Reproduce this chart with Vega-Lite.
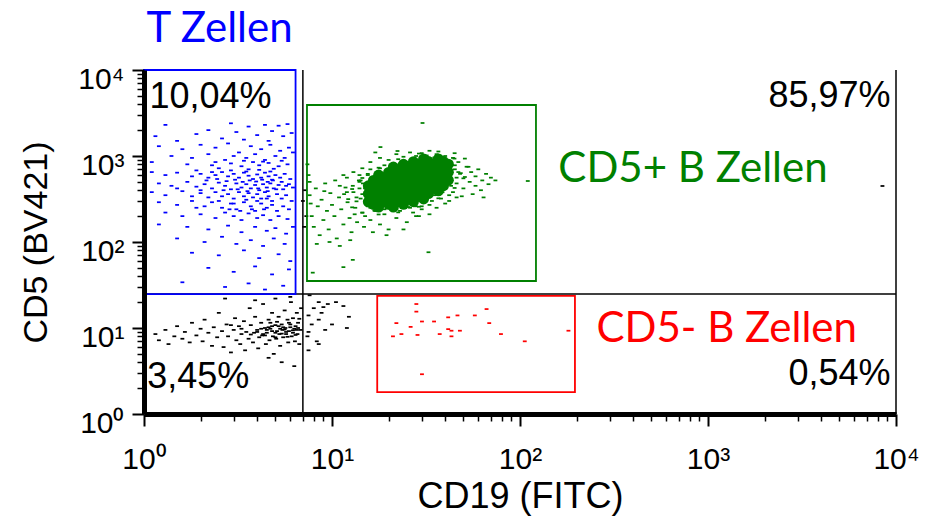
{
  "$schema": "https://vega.github.io/schema/vega-lite/v6.json",
  "width": 752,
  "height": 344,
  "autosize": "none",
  "padding": {"left": 144, "top": 70, "right": 38, "bottom": 102},
  "config": {"view": {"stroke": null}, "font": "Liberation Sans"},
  "datasets": {
    "pts": [
      {"x":1.3,"y":2300,"g":"T"},{"x":2.9,"y":2400,"g":"T"},{"x":3.6,"y":2200,"g":"T"},{"x":4.4,"y":2300,"g":"T"},{"x":5.2,"y":2250,"g":"T"},{"x":5.8,"y":2350,"g":"T"},{"x":2.2,"y":2000,"g":"T"},{"x":1.15,"y":1700,"g":"T"},{"x":1.9,"y":1800,"g":"T"},{"x":3.1,"y":1900,"g":"T"},{"x":4.0,"y":1750,"g":"T"},{"x":4.8,"y":1950,"g":"T"},{"x":5.5,"y":1700,"g":"T"},{"x":6.1,"y":1850,"g":"T"},{"x":2.6,"y":1600,"g":"T"},{"x":3.4,"y":1550,"g":"T"},{"x":1.5,"y":1500,"g":"T"},{"x":4.6,"y":1500,"g":"T"},
      {"x":1.2,"y":1300,"g":"T"},{"x":1.6,"y":1200,"g":"T"},{"x":2.0,"y":1350,"g":"T"},{"x":2.4,"y":1250,"g":"T"},{"x":2.8,"y":1400,"g":"T"},{"x":3.2,"y":1100,"g":"T"},{"x":3.7,"y":1300,"g":"T"},{"x":4.2,"y":1200,"g":"T"},{"x":4.7,"y":1350,"g":"T"},{"x":5.3,"y":1150,"g":"T"},{"x":5.9,"y":1250,"g":"T"},{"x":1.4,"y":1000,"g":"T"},{"x":1.8,"y":950,"g":"T"},{"x":2.2,"y":1050,"g":"T"},{"x":2.7,"y":900,"g":"T"},{"x":3.0,"y":1000,"g":"T"},{"x":3.5,"y":950,"g":"T"},{"x":3.9,"y":1050,"g":"T"},{"x":4.4,"y":900,"g":"T"},{"x":5.0,"y":1000,"g":"T"},{"x":5.6,"y":950,"g":"T"},{"x":6.2,"y":1100,"g":"T"},{"x":1.1,"y":850,"g":"T"},{"x":1.7,"y":800,"g":"T"},{"x":2.3,"y":780,"g":"T"},{"x":2.9,"y":820,"g":"T"},{"x":3.3,"y":760,"g":"T"},{"x":3.8,"y":850,"g":"T"},{"x":4.1,"y":780,"g":"T"},{"x":4.6,"y":830,"g":"T"},{"x":5.2,"y":760,"g":"T"},{"x":5.8,"y":800,"g":"T"},{"x":2.5,"y":720,"g":"T"},{"x":3.6,"y":700,"g":"T"},{"x":4.9,"y":710,"g":"T"},
      {"x":1.1,"y":650,"g":"T"},{"x":1.3,"y":600,"g":"T"},{"x":1.5,"y":640,"g":"T"},{"x":1.8,"y":580,"g":"T"},{"x":2.0,"y":620,"g":"T"},{"x":2.2,"y":560,"g":"T"},{"x":2.4,"y":600,"g":"T"},{"x":2.6,"y":650,"g":"T"},{"x":2.8,"y":580,"g":"T"},{"x":3.0,"y":620,"g":"T"},{"x":3.2,"y":560,"g":"T"},{"x":3.4,"y":640,"g":"T"},{"x":3.6,"y":590,"g":"T"},{"x":3.8,"y":540,"g":"T"},{"x":4.0,"y":610,"g":"T"},{"x":4.2,"y":560,"g":"T"},{"x":4.4,"y":640,"g":"T"},{"x":4.6,"y":580,"g":"T"},{"x":4.8,"y":530,"g":"T"},{"x":5.0,"y":600,"g":"T"},{"x":5.3,"y":560,"g":"T"},{"x":5.6,"y":620,"g":"T"},{"x":6.0,"y":540,"g":"T"},
      {"x":1.2,"y":480,"g":"T"},{"x":1.4,"y":450,"g":"T"},{"x":1.7,"y":500,"g":"T"},{"x":1.9,"y":440,"g":"T"},{"x":2.1,"y":470,"g":"T"},{"x":2.3,"y":420,"g":"T"},{"x":2.5,"y":490,"g":"T"},{"x":2.7,"y":450,"g":"T"},{"x":2.9,"y":410,"g":"T"},{"x":3.1,"y":480,"g":"T"},{"x":3.3,"y":430,"g":"T"},{"x":3.5,"y":470,"g":"T"},{"x":3.7,"y":420,"g":"T"},{"x":3.9,"y":460,"g":"T"},{"x":4.1,"y":400,"g":"T"},{"x":4.3,"y":470,"g":"T"},{"x":4.5,"y":430,"g":"T"},{"x":4.7,"y":480,"g":"T"},{"x":4.9,"y":420,"g":"T"},{"x":5.2,"y":460,"g":"T"},{"x":5.5,"y":410,"g":"T"},{"x":5.9,"y":470,"g":"T"},{"x":6.2,"y":430,"g":"T"},
      {"x":1.1,"y":380,"g":"T"},{"x":1.3,"y":350,"g":"T"},{"x":1.6,"y":390,"g":"T"},{"x":1.8,"y":340,"g":"T"},{"x":2.0,"y":370,"g":"T"},{"x":2.2,"y":330,"g":"T"},{"x":2.4,"y":380,"g":"T"},{"x":2.6,"y":340,"g":"T"},{"x":2.8,"y":360,"g":"T"},{"x":3.0,"y":320,"g":"T"},{"x":3.2,"y":380,"g":"T"},{"x":3.4,"y":340,"g":"T"},{"x":3.6,"y":370,"g":"T"},{"x":3.8,"y":330,"g":"T"},{"x":4.0,"y":360,"g":"T"},{"x":4.2,"y":320,"g":"T"},{"x":4.4,"y":380,"g":"T"},{"x":4.6,"y":340,"g":"T"},{"x":4.8,"y":300,"g":"T"},{"x":5.1,"y":360,"g":"T"},{"x":5.4,"y":320,"g":"T"},{"x":5.7,"y":350,"g":"T"},{"x":6.1,"y":300,"g":"T"},
      {"x":1.2,"y":290,"g":"T"},{"x":1.5,"y":270,"g":"T"},{"x":1.8,"y":300,"g":"T"},{"x":2.1,"y":260,"g":"T"},{"x":2.3,"y":290,"g":"T"},{"x":2.6,"y":250,"g":"T"},{"x":2.9,"y":280,"g":"T"},{"x":3.1,"y":240,"g":"T"},{"x":3.4,"y":290,"g":"T"},{"x":3.7,"y":260,"g":"T"},{"x":3.9,"y":230,"g":"T"},{"x":4.2,"y":280,"g":"T"},{"x":4.5,"y":250,"g":"T"},{"x":4.8,"y":270,"g":"T"},{"x":5.1,"y":230,"g":"T"},{"x":5.5,"y":260,"g":"T"},{"x":5.9,"y":240,"g":"T"},
      {"x":1.3,"y":220,"g":"T"},{"x":1.6,"y":200,"g":"T"},{"x":2.0,"y":210,"g":"T"},{"x":2.4,"y":190,"g":"T"},{"x":2.7,"y":220,"g":"T"},{"x":3.0,"y":200,"g":"T"},{"x":3.3,"y":180,"g":"T"},{"x":3.6,"y":215,"g":"T"},{"x":4.0,"y":190,"g":"T"},{"x":4.3,"y":205,"g":"T"},{"x":4.7,"y":180,"g":"T"},{"x":5.2,"y":200,"g":"T"},{"x":5.8,"y":185,"g":"T"},
      {"x":1.2,"y":160,"g":"T"},{"x":1.7,"y":150,"g":"T"},{"x":2.2,"y":140,"g":"T"},{"x":2.8,"y":155,"g":"T"},{"x":3.3,"y":130,"g":"T"},{"x":3.9,"y":150,"g":"T"},{"x":4.5,"y":135,"g":"T"},{"x":5.0,"y":145,"g":"T"},{"x":5.7,"y":125,"g":"T"},{"x":6.2,"y":150,"g":"T"},
      {"x":1.5,"y":110,"g":"T"},{"x":2.1,"y":100,"g":"T"},{"x":2.6,"y":115,"g":"T"},{"x":3.1,"y":95,"g":"T"},{"x":3.7,"y":105,"g":"T"},{"x":4.3,"y":90,"g":"T"},{"x":4.9,"y":110,"g":"T"},{"x":5.6,"y":95,"g":"T"},
      {"x":1.8,"y":75,"g":"T"},{"x":2.5,"y":70,"g":"T"},{"x":3.4,"y":80,"g":"T"},{"x":4.1,"y":65,"g":"T"},{"x":5.2,"y":72,"g":"T"},{"x":6.0,"y":60,"g":"T"},
      {"x":2.2,"y":50,"g":"T"},{"x":3.0,"y":45,"g":"T"},{"x":3.9,"y":52,"g":"T"},{"x":4.8,"y":42,"g":"T"},{"x":5.9,"y":48,"g":"T"},
      {"x":1.6,"y":34,"g":"T"},{"x":2.7,"y":30,"g":"T"},{"x":3.6,"y":33,"g":"T"},{"x":4.4,"y":28,"g":"T"},{"x":5.5,"y":31,"g":"T"},
      {"x":2.15,"y":520,"g":"T"},{"x":2.45,"y":540,"g":"T"},{"x":2.75,"y":510,"g":"T"},{"x":3.05,"y":530,"g":"T"},{"x":3.35,"y":500,"g":"T"},{"x":3.65,"y":520,"g":"T"},{"x":3.95,"y":505,"g":"T"},{"x":4.25,"y":530,"g":"T"},{"x":4.55,"y":500,"g":"T"},{"x":4.85,"y":520,"g":"T"},{"x":2.3,"y":650,"g":"T"},{"x":2.9,"y":680,"g":"T"},{"x":3.5,"y":660,"g":"T"},{"x":4.1,"y":690,"g":"T"},{"x":4.7,"y":660,"g":"T"},{"x":2.5,"y":300,"g":"T"},{"x":3.0,"y":280,"g":"T"},{"x":3.5,"y":310,"g":"T"},{"x":4.0,"y":300,"g":"T"},{"x":4.5,"y":320,"g":"T"},{"x":2.65,"y":400,"g":"T"},{"x":3.15,"y":410,"g":"T"},{"x":3.55,"y":390,"g":"T"},{"x":4.05,"y":420,"g":"T"},{"x":4.55,"y":390,"g":"T"},{"x":5.05,"y":410,"g":"T"},{"x":2.0,"y":400,"g":"T"},{"x":1.5,"y":420,"g":"T"},{"x":5.4,"y":500,"g":"T"},{"x":5.7,"y":450,"g":"T"},{"x":3.25,"y":230,"g":"T"},{"x":3.75,"y":240,"g":"T"},{"x":4.35,"y":240,"g":"T"},{"x":2.85,"y":240,"g":"T"},{"x":1.9,"y":250,"g":"T"},{"x":2.4,"y":850,"g":"T"},{"x":3.4,"y":880,"g":"T"},{"x":4.3,"y":860,"g":"T"},{"x":5.4,"y":880,"g":"T"},{"x":1.9,"y":680,"g":"T"},

      {"x":1.15,"y":8.5,"g":"N"},{"x":1.2,"y":7.2,"g":"N"},{"x":1.3,"y":9.5,"g":"N"},{"x":1.35,"y":6.5,"g":"N"},{"x":1.45,"y":8.0,"g":"N"},{"x":1.5,"y":10.5,"g":"N"},{"x":1.6,"y":7.5,"g":"N"},{"x":1.65,"y":9.0,"g":"N"},{"x":1.75,"y":6.8,"g":"N"},{"x":1.8,"y":11.5,"g":"N"},{"x":1.9,"y":8.2,"g":"N"},{"x":2.0,"y":9.8,"g":"N"},{"x":2.05,"y":7.0,"g":"N"},{"x":2.1,"y":12.5,"g":"N"},{"x":2.2,"y":8.8,"g":"N"},{"x":2.3,"y":6.2,"g":"N"},{"x":2.35,"y":10.2,"g":"N"},{"x":2.45,"y":7.8,"g":"N"},{"x":2.5,"y":15,"g":"N"},{"x":2.6,"y":9.2,"g":"N"},{"x":2.65,"y":6.0,"g":"N"},{"x":2.75,"y":11,"g":"N"},{"x":2.8,"y":8.0,"g":"N"},{"x":2.9,"y":5.2,"g":"N"},{"x":3.0,"y":9.5,"g":"N"},{"x":3.05,"y":13,"g":"N"},{"x":3.1,"y":7.2,"g":"N"},{"x":3.2,"y":10.5,"g":"N"},{"x":3.25,"y":6.5,"g":"N"},{"x":3.3,"y":8.5,"g":"N"},{"x":3.4,"y":12,"g":"N"},{"x":3.45,"y":5.5,"g":"N"},{"x":3.5,"y":9.0,"g":"N"},{"x":3.6,"y":7.5,"g":"N"},{"x":3.65,"y":17,"g":"N"},{"x":3.7,"y":10.8,"g":"N"},{"x":3.8,"y":6.8,"g":"N"},{"x":3.85,"y":8.8,"g":"N"},{"x":3.9,"y":13.5,"g":"N"},{"x":4.0,"y":9.5,"g":"N"},{"x":4.05,"y":5.8,"g":"N"},{"x":4.1,"y":7.8,"g":"N"},{"x":4.2,"y":11.5,"g":"N"},{"x":4.25,"y":8.2,"g":"N"},{"x":4.3,"y":19,"g":"N"},{"x":4.4,"y":10,"g":"N"},{"x":4.45,"y":6.5,"g":"N"},{"x":4.5,"y":8.8,"g":"N"},{"x":4.6,"y":12.5,"g":"N"},{"x":4.65,"y":7.2,"g":"N"},{"x":4.7,"y":9.8,"g":"N"},{"x":4.8,"y":15,"g":"N"},{"x":4.85,"y":8.0,"g":"N"},{"x":4.9,"y":5.0,"g":"N"},{"x":5.0,"y":10.8,"g":"N"},{"x":5.05,"y":7.5,"g":"N"},{"x":5.1,"y":9.2,"g":"N"},{"x":5.2,"y":13.5,"g":"N"},{"x":5.25,"y":8.5,"g":"N"},{"x":5.3,"y":6.2,"g":"N"},{"x":5.4,"y":11,"g":"N"},{"x":5.45,"y":9.5,"g":"N"},{"x":5.5,"y":7.8,"g":"N"},{"x":5.6,"y":16,"g":"N"},{"x":5.65,"y":10,"g":"N"},{"x":5.7,"y":8.5,"g":"N"},{"x":5.8,"y":12.5,"g":"N"},{"x":5.85,"y":6.8,"g":"N"},{"x":5.9,"y":9.2,"g":"N"},{"x":6.0,"y":11,"g":"N"},{"x":6.05,"y":20,"g":"N"},{"x":6.1,"y":8.0,"g":"N"},{"x":6.2,"y":13,"g":"N"},{"x":6.3,"y":9.8,"g":"N"},{"x":6.35,"y":7.0,"g":"N"},{"x":6.4,"y":10.5,"g":"N"},{"x":6.5,"y":15,"g":"N"},{"x":6.55,"y":8.5,"g":"N"},{"x":6.6,"y":11.5,"g":"N"},{"x":6.7,"y":6.5,"g":"N"},{"x":6.8,"y":9.5,"g":"N"},{"x":6.85,"y":17,"g":"N"},{"x":4.6,"y":4.5,"g":"N"},{"x":5.4,"y":4.0,"g":"N"},{"x":6.3,"y":3.6,"g":"N"},{"x":3.9,"y":21,"g":"N"},{"x":5.0,"y":22,"g":"N"},{"x":6.0,"y":23,"g":"N"},{"x":2.7,"y":22,"g":"N"},{"x":4.0,"y":9.0,"g":"N"},{"x":4.5,"y":9.5,"g":"N"},{"x":5.0,"y":8.8,"g":"N"},{"x":5.3,"y":9.8,"g":"N"},{"x":4.8,"y":10.5,"g":"N"},{"x":5.7,"y":9.0,"g":"N"},{"x":6.2,"y":8.8,"g":"N"},{"x":4.3,"y":8.5,"g":"N"},{"x":5.5,"y":10.2,"g":"N"},{"x":6.5,"y":9.5,"g":"N"},
      {"x":4.2,"y":9.8,"g":"N"},{"x":4.4,"y":8.2,"g":"N"},{"x":4.6,"y":10.2,"g":"N"},{"x":4.8,"y":9.2,"g":"N"},{"x":5.0,"y":7.8,"g":"N"},{"x":5.2,"y":10.5,"g":"N"},{"x":5.4,"y":8.6,"g":"N"},{"x":5.6,"y":9.6,"g":"N"},{"x":5.8,"y":7.9,"g":"N"},{"x":6.0,"y":10.2,"g":"N"},{"x":6.2,"y":9.4,"g":"N"},{"x":6.4,"y":8.3,"g":"N"},{"x":6.6,"y":10,"g":"N"},{"x":5.1,"y":11.8,"g":"N"},{"x":5.9,"y":11.5,"g":"N"},{"x":4.7,"y":11.5,"g":"N"},{"x":3.3,"y":9.8,"g":"N"},{"x":3.7,"y":8.4,"g":"N"},{"x":2.9,"y":10.8,"g":"N"},{"x":6.7,"y":12.8,"g":"N"},
      {"x":7.6,"y":24,"g":"N"},{"x":8.5,"y":20,"g":"N"},{"x":9.5,"y":19,"g":"N"},{"x":10.5,"y":20,"g":"N"},{"x":8.0,"y":17,"g":"N"},{"x":9.0,"y":17.5,"g":"N"},{"x":11.5,"y":18,"g":"N"},{"x":7.5,"y":14,"g":"N"},{"x":8.8,"y":15,"g":"N"},{"x":12.3,"y":13.5,"g":"N"},{"x":7.8,"y":11,"g":"N"},{"x":8.5,"y":12.5,"g":"N"},{"x":10,"y":11,"g":"N"},{"x":12,"y":10,"g":"N"},{"x":7.5,"y":9,"g":"N"},{"x":9.2,"y":9.5,"g":"N"},{"x":7.4,"y":8,"g":"N"},{"x":8.3,"y":7,"g":"N"},{"x":7.5,"y":5.5,"g":"N"},{"x":8.5,"y":6.5,"g":"N"},
      {"x":7.2,"y":400,"g":"N"},{"x":7.0,"y":300,"g":"N"},{"x":7.3,"y":200,"g":"N"},{"x":7.1,"y":150,"g":"N"},{"x":8470,"y":448,"g":"N"},

      {"x":7.6,"y":350,"g":"B+"},{"x":7.8,"y":200,"g":"B+"},{"x":8.0,"y":150,"g":"B+"},{"x":8.2,"y":420,"g":"B+"},{"x":8.4,"y":260,"g":"B+"},{"x":8.6,"y":120,"g":"B+"},{"x":8.8,"y":310,"g":"B+"},{"x":9.0,"y":180,"g":"B+"},{"x":9.2,"y":480,"g":"B+"},{"x":9.4,"y":230,"g":"B+"},{"x":9.6,"y":140,"g":"B+"},{"x":9.8,"y":370,"g":"B+"},{"x":10,"y":270,"g":"B+"},{"x":10.3,"y":200,"g":"B+"},{"x":10.6,"y":110,"g":"B+"},{"x":10.9,"y":330,"g":"B+"},{"x":11.2,"y":240,"g":"B+"},{"x":11.5,"y":160,"g":"B+"},{"x":11.8,"y":430,"g":"B+"},{"x":12.1,"y":290,"g":"B+"},{"x":12.4,"y":190,"g":"B+"},{"x":12.7,"y":130,"g":"B+"},{"x":13,"y":380,"g":"B+"},{"x":13.3,"y":250,"g":"B+"},{"x":13.6,"y":170,"g":"B+"},{"x":13.9,"y":520,"g":"B+"},{"x":14.2,"y":320,"g":"B+"},{"x":14.5,"y":220,"g":"B+"},{"x":14.8,"y":150,"g":"B+"},{"x":8.3,"y":95,"g":"B+"},{"x":9.7,"y":100,"g":"B+"},{"x":11,"y":90,"g":"B+"},{"x":12.5,"y":105,"g":"B+"},{"x":7.7,"y":280,"g":"B+"},{"x":9.1,"y":390,"g":"B+"},{"x":10.4,"y":520,"g":"B+"},{"x":11.6,"y":360,"g":"B+"},{"x":12.9,"y":450,"g":"B+"},{"x":14,"y":600,"g":"B+"},{"x":13.2,"y":210,"g":"B+"},
      {"x":15,"y":200,"g":"B+"},{"x":16,"y":180,"g":"B+"},{"x":17,"y":230,"g":"B+"},{"x":18,"y":160,"g":"B+"},{"x":19,"y":210,"g":"B+"},{"x":20,"y":140,"g":"B+"},{"x":21,"y":250,"g":"B+"},{"x":22,"y":190,"g":"B+"},{"x":23,"y":230,"g":"B+"},{"x":25,"y":170,"g":"B+"},{"x":27,"y":220,"g":"B+"},{"x":29,"y":200,"g":"B+"},{"x":16.5,"y":130,"g":"B+"},{"x":19.5,"y":120,"g":"B+"},{"x":24,"y":140,"g":"B+"},{"x":15.5,"y":260,"g":"B+"},{"x":18.5,"y":270,"g":"B+"},{"x":26,"y":250,"g":"B+"},{"x":30,"y":240,"g":"B+"},{"x":33,"y":270,"g":"B+"},{"x":28,"y":260,"g":"B+"},
      {"x":32.6,"y":76,"g":"B+"},{"x":7.9,"y":44,"g":"B+"},{"x":12.9,"y":62,"g":"B+"},{"x":11.5,"y":51,"g":"B+"},{"x":30.3,"y":2420,"g":"B+"},{"x":110,"y":512,"g":"B+"},{"x":18.1,"y":1270,"g":"B+"},{"x":22.3,"y":1143,"g":"B+"},
      {"x":16,"y":850,"g":"B+"},{"x":18,"y":950,"g":"B+"},{"x":20,"y":900,"g":"B+"},{"x":22,"y":1050,"g":"B+"},{"x":24,"y":980,"g":"B+"},{"x":26,"y":1100,"g":"B+"},{"x":28,"y":1000,"g":"B+"},{"x":30,"y":1080,"g":"B+"},{"x":33,"y":1150,"g":"B+"},{"x":36,"y":1050,"g":"B+"},{"x":40,"y":1000,"g":"B+"},{"x":44,"y":950,"g":"B+"},{"x":19,"y":780,"g":"B+"},{"x":23,"y":820,"g":"B+"},{"x":27,"y":880,"g":"B+"},{"x":31,"y":920,"g":"B+"},{"x":35,"y":960,"g":"B+"},{"x":39,"y":880,"g":"B+"},{"x":43,"y":820,"g":"B+"},{"x":47,"y":850,"g":"B+"},{"x":14.5,"y":720,"g":"B+"},{"x":17,"y":1100,"g":"B+"},
      {"x":45,"y":700,"g":"B+"},{"x":48,"y":620,"g":"B+"},{"x":50,"y":550,"g":"B+"},{"x":52,"y":750,"g":"B+"},{"x":55,"y":650,"g":"B+"},{"x":58,"y":580,"g":"B+"},{"x":60,"y":700,"g":"B+"},{"x":63,"y":520,"g":"B+"},{"x":66,"y":620,"g":"B+"},{"x":70,"y":560,"g":"B+"},{"x":46,"y":480,"g":"B+"},{"x":50,"y":420,"g":"B+"},{"x":54,"y":500,"g":"B+"},{"x":58,"y":450,"g":"B+"},{"x":62,"y":400,"g":"B+"},{"x":68,"y":470,"g":"B+"},{"x":74,"y":520,"g":"B+"},{"x":44,"y":380,"g":"B+"},{"x":49,"y":340,"g":"B+"},{"x":56,"y":360,"g":"B+"},{"x":42,"y":300,"g":"B+"},{"x":64,"y":330,"g":"B+"},
      {"x":22,"y":240,"g":"B+"},{"x":26,"y":290,"g":"B+"},{"x":30,"y":260,"g":"B+"},{"x":34,"y":300,"g":"B+"},{"x":38,"y":320,"g":"B+"},{"x":42,"y":350,"g":"B+"},{"x":46,"y":330,"g":"B+"},{"x":36,"y":250,"g":"B+"},{"x":40,"y":280,"g":"B+"},{"x":28,"y":200,"g":"B+"},{"x":33,"y":210,"g":"B+"},{"x":24,"y":330,"g":"B+"},
      {"x":11,"y":450,"g":"B+"},{"x":12,"y":560,"g":"B+"},{"x":13,"y":650,"g":"B+"},{"x":14,"y":500,"g":"B+"},{"x":15,"y":420,"g":"B+"},{"x":12,"y":380,"g":"B+"},{"x":13.5,"y":330,"g":"B+"},{"x":15.5,"y":620,"g":"B+"},{"x":16,"y":700,"g":"B+"},{"x":11.5,"y":600,"g":"B+"},{"x":7.5,"y":600,"g":"B+"},{"x":7.4,"y":800,"g":"B+"},{"x":7.6,"y":500,"g":"B+"},
      {"x":14,"y":420,"g":"B+"},{"x":14.5,"y":360,"g":"B+"},{"x":15,"y":300,"g":"B+"},{"x":16,"y":250,"g":"B+"},{"x":17,"y":230,"g":"B+"},{"x":19,"y":240,"g":"B+"},{"x":21,"y":250,"g":"B+"},{"x":24,"y":270,"g":"B+"},{"x":27,"y":300,"g":"B+"},{"x":31,"y":320,"g":"B+"},{"x":35,"y":350,"g":"B+"},{"x":39,"y":400,"g":"B+"},{"x":43,"y":450,"g":"B+"},{"x":46,"y":560,"g":"B+"},{"x":47,"y":650,"g":"B+"},{"x":45,"y":780,"g":"B+"},{"x":41,"y":880,"g":"B+"},{"x":37,"y":960,"g":"B+"},{"x":33,"y":950,"g":"B+"},{"x":29,"y":900,"g":"B+"},{"x":25,"y":850,"g":"B+"},{"x":21,"y":780,"g":"B+"},{"x":18,"y":720,"g":"B+"},{"x":15.5,"y":600,"g":"B+"},{"x":14.2,"y":520,"g":"B+"},
      {"x":53.2,"y":749,"g":"B+"},{"x":50.9,"y":570,"g":"B+"},{"x":44.9,"y":425,"g":"B+"},{"x":36.8,"y":322,"g":"B+"},{"x":29.0,"y":257,"g":"B+"},{"x":22.5,"y":221,"g":"B+"},{"x":17.7,"y":209,"g":"B+"},{"x":14.5,"y":219,"g":"B+"},{"x":12.8,"y":253,"g":"B+"},{"x":12.2,"y":315,"g":"B+"},{"x":12.8,"y":413,"g":"B+"},{"x":14.5,"y":555,"g":"B+"},{"x":17.7,"y":731,"g":"B+"},{"x":22.5,"y":918,"g":"B+"},{"x":29.0,"y":1067,"g":"B+"},{"x":36.8,"y":1128,"g":"B+"},{"x":44.9,"y":1078,"g":"B+"},{"x":50.9,"y":933,"g":"B+"},
      {"x":48.4,"y":632,"g":"B+"},{"x":38.7,"y":379,"g":"B+"},{"x":25.5,"y":255,"g":"B+"},{"x":16.8,"y":232,"g":"B+"},{"x":13.5,"y":297,"g":"B+"},{"x":14.6,"y":480,"g":"B+"},{"x":20.5,"y":780,"g":"B+"},{"x":31.9,"y":1014,"g":"B+"},{"x":44.8,"y":933,"g":"B+"},

      {"x":28.1,"y":19.0,"g":"B-"},{"x":28.1,"y":15.5,"g":"B-"},{"x":22.0,"y":11.4,"g":"B-"},{"x":26.2,"y":10.3,"g":"B-"},{"x":30.1,"y":11.9,"g":"B-"},{"x":34.9,"y":11.9,"g":"B-"},{"x":41.5,"y":13.3,"g":"B-"},{"x":46.5,"y":14.0,"g":"B-"},{"x":57.5,"y":14.0,"g":"B-"},{"x":66.4,"y":16.6,"g":"B-"},{"x":68.6,"y":11.4,"g":"B-"},{"x":41.5,"y":9.7,"g":"B-"},{"x":43.2,"y":9.3,"g":"B-"},{"x":47.9,"y":9.3,"g":"B-"},{"x":21.1,"y":8.0,"g":"B-"},{"x":23.4,"y":8.5,"g":"B-"},{"x":28.5,"y":8.3,"g":"B-"},{"x":37.4,"y":8.5,"g":"B-"},{"x":43.2,"y":8.0,"g":"B-"},{"x":79.2,"y":8.5,"g":"B-"},{"x":106,"y":7.0,"g":"B-"},{"x":181,"y":9.3,"g":"B-"},{"x":30.1,"y":2.9,"g":"B-"}
    ],
    "core": [
      {"x":15.6,"y":450},{"x":15.6,"y":363},{"x":15.6,"y":293},
      {"x":17.7,"y":600},{"x":17.7,"y":484},{"x":17.7,"y":391},{"x":17.7,"y":315},{"x":17.7,"y":255},
      {"x":20,"y":645},{"x":20,"y":520},{"x":20,"y":420},{"x":20,"y":339},{"x":20,"y":274},
      {"x":22.6,"y":693},{"x":22.6,"y":559},{"x":22.6,"y":451},{"x":22.6,"y":364},{"x":22.6,"y":294},
      {"x":25.5,"y":745},{"x":25.5,"y":601},{"x":25.5,"y":485},{"x":25.5,"y":392},{"x":25.5,"y":316},
      {"x":28.8,"y":800},{"x":28.8,"y":646},{"x":28.8,"y":521},{"x":28.8,"y":421},{"x":28.8,"y":340},
      {"x":32.6,"y":861},{"x":32.6,"y":695},{"x":32.6,"y":561},{"x":32.6,"y":453},{"x":32.6,"y":365},
      {"x":36.8,"y":925},{"x":36.8,"y":747},{"x":36.8,"y":603},{"x":36.8,"y":487},{"x":36.8,"y":393},
      {"x":41.6,"y":803},{"x":41.6,"y":648},{"x":41.6,"y":524},
      {"x":16.6,"y":520},{"x":16.6,"y":420},{"x":16.6,"y":339},{"x":16.6,"y":273},
      {"x":18.8,"y":559},{"x":18.8,"y":451},{"x":18.8,"y":364},{"x":18.8,"y":294},
      {"x":21.2,"y":744},{"x":21.2,"y":601},{"x":21.2,"y":485},{"x":21.2,"y":391},{"x":21.2,"y":316},{"x":21.2,"y":255},
      {"x":24.0,"y":800},{"x":24.0,"y":645},{"x":24.0,"y":521},{"x":24.0,"y":421},{"x":24.0,"y":340},{"x":24.0,"y":274},
      {"x":27.1,"y":859},{"x":27.1,"y":694},{"x":27.1,"y":560},{"x":27.1,"y":452},{"x":27.1,"y":365},{"x":27.1,"y":294},
      {"x":30.7,"y":924},{"x":30.7,"y":746},{"x":30.7,"y":602},{"x":30.7,"y":486},{"x":30.7,"y":392},{"x":30.7,"y":317},
      {"x":34.7,"y":802},{"x":34.7,"y":647},{"x":34.7,"y":522},{"x":34.7,"y":422},
      {"x":39.2,"y":862},{"x":39.2,"y":696},{"x":39.2,"y":561},{"x":39.2,"y":453}
    ],
    "lines": [
      {"x":7,"x2":7,"y":1,"y2":10000},
      {"x":10000,"x2":10000,"y":1,"y2":10000},
      {"x":1,"x2":10000,"y":24.8,"y2":24.8}
    ],
    "gates": [
      {"x":1,"x2":6.4,"y":24.8,"y2":10000,"g":"T"},
      {"x":7.36,"x2":121.6,"y":35.2,"y2":3920,"g":"B+"},
      {"x":17.4,"x2":196,"y":1.8,"y2":23.6,"g":"B-"}
    ],
    "labs": [
      {"x":1.03,"y":21000,"t":"T Zellen","g":"T"},
      {"x":160,"y":499,"t":"CD5+ B Zellen","g":"B+"},
      {"x":255,"y":6.87,"t":"CD5- B Zellen","g":"B-"}
    ],
    "pctL": [
      {"x":1.07,"y":3615,"t":"10,04%"},
      {"x":1.04,"y":2.0,"t":"3,45%"}
    ],
    "pctR": [
      {"x":9350,"y":3715,"t":"85,97%"},
      {"x":9350,"y":2.17,"t":"0,54%"}
    ]
  },
  "layer": [
    {
      "data": {"name": "pts"},
      "mark": {"type": "point", "shape": "M-1,-0.45H1V0.45H-1Z", "filled": true, "size": 15, "opacity": 1},
      "encoding": {
        "x": {
          "field": "x", "type": "quantitative",
          "scale": {"type": "log", "domain": [1, 10000], "nice": false},
          "axis": {
            "values": [1,2,3,4,5,6,7,8,9,10,20,30,40,50,60,70,80,90,100,200,300,400,500,600,700,800,900,1000,2000,3000,4000,5000,6000,7000,8000,9000,10000],
            "labelExpr": "datum.value==1?'10⁰':datum.value==10?'10¹':datum.value==100?'10²':datum.value==1000?'10³':datum.value==10000?'10⁴':''",
            "labelFontSize": 30, "labelColor": "black", "labelFont": "Liberation Sans",
            "labelPadding": 18, "labelFlush": false, "labelOverlap": false,
            "title": "CD19 (FITC)", "titleFontSize": 36, "titleFontWeight": "normal", "titleColor": "black", "titleFont": "Liberation Sans", "titlePadding": 5,
            "domainColor": "black", "domainWidth": 5,
            "tickColor": "black",
            "tickSize": {"condition": {"test": "datum.value==1||datum.value==10||datum.value==100||datum.value==1000||datum.value==10000", "value": 12}, "value": 7},
            "tickWidth": {"condition": {"test": "datum.value==1||datum.value==10||datum.value==100||datum.value==1000||datum.value==10000", "value": 2}, "value": 1.5},
            "grid": false, "zindex": 1
          }
        },
        "y": {
          "field": "y", "type": "quantitative",
          "scale": {"type": "log", "domain": [1, 10000], "nice": false},
          "axis": {
            "values": [1,2,3,4,5,6,7,8,9,10,20,30,40,50,60,70,80,90,100,200,300,400,500,600,700,800,900,1000,2000,3000,4000,5000,6000,7000,8000,9000,10000],
            "labelExpr": "datum.value==1?'10⁰':datum.value==10?'10¹':datum.value==100?'10²':datum.value==1000?'10³':datum.value==10000?'10⁴':''",
            "labelFontSize": 30, "labelColor": "black", "labelFont": "Liberation Sans",
            "labelPadding": 8, "labelOffset": 9, "labelFlush": false, "labelOverlap": false, "labelBaseline": "middle",
            "title": "CD5 (BV421)", "titleFontSize": 34, "titleFontWeight": "normal", "titleColor": "black", "titleFont": "Liberation Sans", "titlePadding": 24,
            "domainColor": "black", "domainWidth": 5,
            "tickColor": "black",
            "tickSize": {"condition": {"test": "datum.value==1||datum.value==10||datum.value==100||datum.value==1000||datum.value==10000", "value": 12}, "value": 7},
            "tickWidth": {"condition": {"test": "datum.value==1||datum.value==10||datum.value==100||datum.value==1000||datum.value==10000", "value": 2}, "value": 1.5},
            "grid": false, "zindex": 1
          }
        },
        "color": {
          "field": "g", "type": "nominal",
          "scale": {"domain": ["T", "B+", "B-", "N"], "range": ["#0000FF", "#008000", "#FF0000", "#000000"]},
          "legend": null
        }
      }
    },
    {
      "data": {"name": "core"},
      "mark": {"type": "point", "shape": "circle", "filled": true, "size": 120, "opacity": 1, "color": "#008000"},
      "encoding": {
        "x": {"field": "x", "type": "quantitative"},
        "y": {"field": "y", "type": "quantitative"}
      }
    },
    {
      "data": {"name": "lines"},
      "mark": {"type": "rule", "color": "black", "strokeWidth": 1.5},
      "encoding": {
        "x": {"field": "x", "type": "quantitative"},
        "x2": {"field": "x2"},
        "y": {"field": "y", "type": "quantitative"},
        "y2": {"field": "y2"}
      }
    },
    {
      "data": {"name": "gates"},
      "mark": {"type": "rect", "filled": false, "strokeWidth": 1.8},
      "encoding": {
        "x": {"field": "x", "type": "quantitative"},
        "x2": {"field": "x2"},
        "y": {"field": "y", "type": "quantitative"},
        "y2": {"field": "y2"},
        "color": {"field": "g", "type": "nominal"}
      }
    },
    {
      "data": {"name": "labs"},
      "mark": {"type": "text", "align": "left", "baseline": "alphabetic", "font": "Lato", "fontSize": 42},
      "encoding": {
        "x": {"field": "x", "type": "quantitative"},
        "y": {"field": "y", "type": "quantitative"},
        "text": {"field": "t"},
        "color": {"field": "g", "type": "nominal"}
      }
    },
    {
      "data": {"name": "pctL"},
      "mark": {"type": "text", "align": "left", "baseline": "alphabetic", "font": "Liberation Sans", "fontSize": 36, "color": "black"},
      "encoding": {
        "x": {"field": "x", "type": "quantitative"},
        "y": {"field": "y", "type": "quantitative"},
        "text": {"field": "t"}
      }
    },
    {
      "data": {"name": "pctR"},
      "mark": {"type": "text", "align": "right", "baseline": "alphabetic", "font": "Liberation Sans", "fontSize": 36, "color": "black"},
      "encoding": {
        "x": {"field": "x", "type": "quantitative"},
        "y": {"field": "y", "type": "quantitative"},
        "text": {"field": "t"}
      }
    }
  ]
}
